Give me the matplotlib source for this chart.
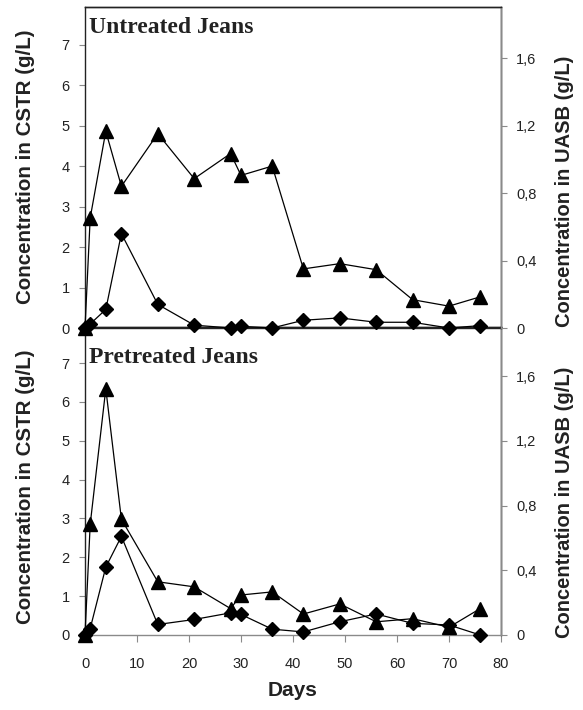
"""Concentration in CSTR and UASB for untreated and pretreated jeans."""

import matplotlib

matplotlib.use("Agg")
import matplotlib.pyplot as plt
from matplotlib.ticker import FuncFormatter

days = [0, 1, 4, 7, 14, 21, 28, 30, 36, 42, 49, 56, 63, 70, 76]

# untreated jeans
untreated_cstr = [0, 2.72, 4.86, 3.50, 4.80, 3.69, 4.31, 3.77, 4.00,
                  1.46, 1.59, 1.44, 0.70, 0.54, 0.77]
untreated_uasb = [0, 0.024, 0.11, 0.56, 0.14, 0.017, 0, 0.01, 0,
                  0.046, 0.06, 0.034, 0.034, 0, 0.014]

# pretreated jeans
pretreated_cstr = [0, 2.85, 6.34, 2.98, 1.37, 1.24, 0.68, 1.03, 1.11,
                   0.54, 0.80, 0.34, 0.42, 0.20, 0.68]
pretreated_uasb = [0, 0.04, 0.42, 0.61, 0.065, 0.096, 0.137, 0.127, 0.036,
                   0.019, 0.082, 0.13, 0.072, 0.062, 0]

panels = [
    ("Untreated Jeans", untreated_cstr, untreated_uasb, 7.29),
    ("Pretreated Jeans", pretreated_cstr, pretreated_uasb, 7.0),
]

left_ticks = [0, 1, 2, 3, 4, 5, 6, 7]
right_ticks = [0, 0.4, 0.8, 1.2, 1.6]
x_ticks = [0, 10, 20, 30, 40, 50, 60, 70, 80]

W, H = 583, 710
fig = plt.figure(figsize=(W / 100, H / 100), dpi=100)

SANS = "Liberation Sans"
SERIF = "Liberation Serif"
GREY = "#8a8a8a"
DARK = "#222222"


def comma(v, _pos):
    return "0" if v == 0 else f"{v:.1f}".replace(".", ",")


# pixel boxes (left, top, right, bottom) and y-label centres (left, right)
boxes = [(85, 7, 501, 328), (85, 327, 501, 635)]
label_y = [(167, 191), (487, 502)]

axes = []
for i, ((title, cstr, uasb, title_y), (l, t, r, b)) in enumerate(zip(panels, boxes)):
    ax = fig.add_axes([l / W, 1 - b / H, (r - l) / W, (b - t) / H])
    ax.set_zorder(10 - 5 * i)
    ax2 = ax.twinx()
    ax2.set_zorder(11 - 5 * i)
    ax.patch.set_visible(False)

    ax.plot(days, cstr, color="black", lw=0.9, marker="^", ms=10,
            clip_on=False, zorder=3)
    ax2.plot(days, uasb, color="black", lw=0.9, marker="D", ms=7,
             clip_on=False, zorder=3)

    ax.set_xlim(0, 80)
    ax.set_ylim(0, 7.93)
    ax2.set_ylim(0, 1.905)
    ax.set_yticks(left_ticks)
    ax2.set_yticks(right_ticks)
    ax2.yaxis.set_major_formatter(FuncFormatter(comma))
    ax.set_xticks(x_ticks)

    for a in (ax, ax2):
        a.tick_params(axis="both", direction="out", length=4, width=0.8,
                      color=GREY, labelsize=10.5, pad=7)
        for lab in a.get_xticklabels() + a.get_yticklabels():
            lab.set_fontfamily(SANS)
            lab.set_color(DARK)
        for sp in a.spines.values():
            sp.set_linewidth(1.0)
    ax.tick_params(axis="x", length=5, pad=11)
    ax.spines["left"].set_color(DARK)
    ax.spines["top"].set_color(DARK)
    ax2.spines["top"].set_color(DARK)
    ax2.spines["right"].set_color(GREY)
    ax2.spines["left"].set_visible(False)
    ax2.spines["bottom"].set_visible(False)
    if i == 0:
        ax.spines["bottom"].set_color(DARK)
        ax.tick_params(axis="x", bottom=False, labelbottom=False)
    else:
        ax.spines["bottom"].set_color(GREY)

    ly_left, ly_right = label_y[i]
    fig.text(26 / W, 1 - ly_left / H, "Concentration in CSTR (g/L)",
             rotation=90, ha="center", va="center", fontsize=14.8,
             fontweight="bold", family=SANS, color=DARK)
    fig.text(565 / W, 1 - ly_right / H, "Concentration in UASB (g/L)",
             rotation=90, ha="center", va="center", fontsize=14.5,
             fontweight="bold", family=SANS, color=DARK)
    ax.text(0.7, title_y, title, ha="left", va="baseline",
            fontsize=17, fontweight="bold", family=SERIF, color=DARK)
    axes.append(ax)

axes[1].set_xlabel("Days", fontsize=15, fontweight="bold", family=SANS,
                   color=DARK, labelpad=7)

fig.savefig("out.png", dpi=100)
